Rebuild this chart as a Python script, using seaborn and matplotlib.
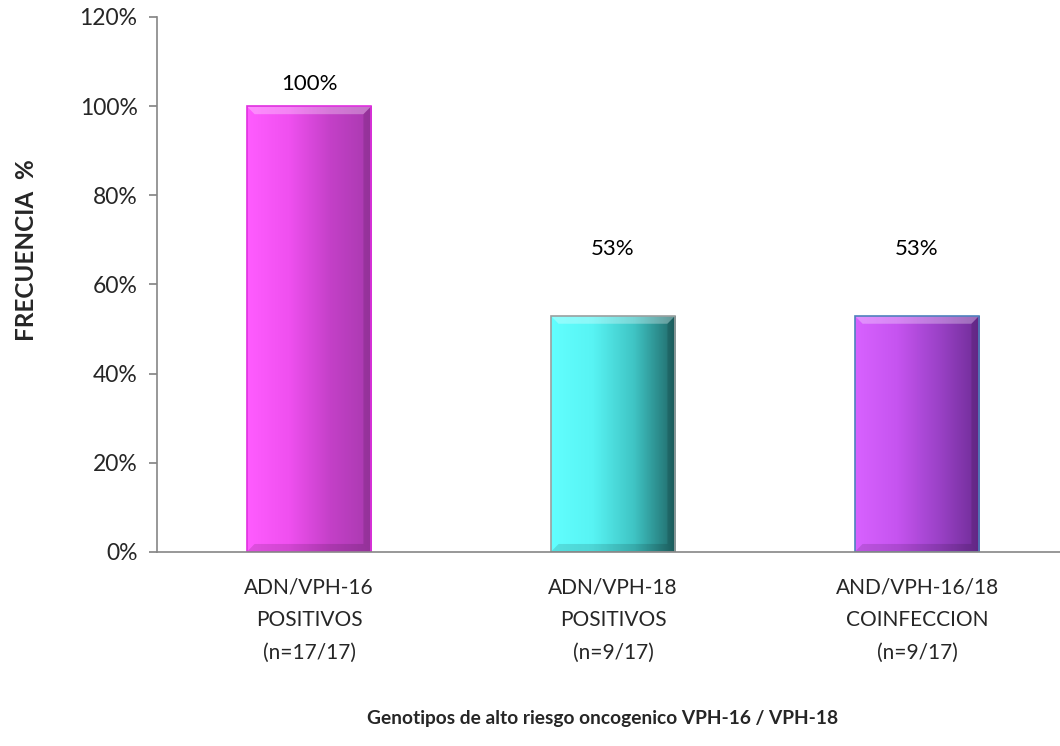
import numpy as np
import pandas as pd
import seaborn as sns
import matplotlib.pyplot as plt
from matplotlib.colors import LinearSegmentedColormap

# Data
categorias = ["ADN/VPH-16\nPOSITIVOS\n(n=17/17)",
              "ADN/VPH-18\nPOSITIVOS\n(n=9/17)",
              "AND/VPH-16/18\nCOINFECCION\n(n=9/17)"]
frecuencia = [1.00, 0.53, 0.53]
etiquetas = ["100%", "53%", "53%"]
altura_etiqueta = [1.05, 0.68, 0.68]

# colour ramps (left -> right) for the shaded bars
rampas = [["#ff5cff", "#f050f0", "#c440c8", "#a83aae"],
          ["#62ffff", "#58f4f4", "#3fc4c4", "#1f6666"],
          ["#d862ff", "#c654f0", "#9c42c8", "#6e2c96"]]
bordes = ["#e030e0", "#9aa0a0", "#4f81bd"]

sns.set_theme(style="white")
plt.rcParams['font.family'] = ['Lato', 'DejaVu Sans']

df = pd.DataFrame({"cat": categorias, "val": frecuencia})

fig = plt.figure(figsize=(10.6, 7.46), dpi=100)
ax = fig.add_axes([157 / 1060, 194 / 746, 912 / 1060, 535 / 746])

sns.barplot(data=df, x="cat", y="val", hue="cat", palette=[r[1] for r in rampas],
            width=0.41, legend=False, ax=ax, saturation=1)

ax.set_xlim(-0.5, 2.5)
ax.set_ylim(0, 1.2)

bx, by = 0.026, 0.018  # bevel size in data units
for i, p in enumerate(ax.patches):
    x0, y0 = p.get_x(), p.get_y()
    w, h = p.get_width(), p.get_height()
    z = p.get_zorder()
    cmap = LinearSegmentedColormap.from_list("g%d" % i, rampas[i])
    grad = np.linspace(0, 1, 256).reshape(1, -1)
    im = ax.imshow(grad, cmap=cmap, aspect="auto", extent=[x0, x0 + w, y0, y0 + h],
                   zorder=z + 0.1, interpolation="bicubic")
    im.set_clip_path(p)
    # bevel: light top, dark bottom/right edges
    top = plt.Polygon([[x0, y0 + h], [x0 + w, y0 + h], [x0 + w - bx, y0 + h - by],
                       [x0 + bx, y0 + h - by]], color="white", alpha=0.3, lw=0, zorder=z + 0.2)
    bot = plt.Polygon([[x0, y0], [x0 + w, y0], [x0 + w - bx, y0 + by],
                       [x0 + bx, y0 + by]], color="black", alpha=0.12, lw=0, zorder=z + 0.2)
    rgt = plt.Polygon([[x0 + w, y0], [x0 + w, y0 + h], [x0 + w - bx, y0 + h - by],
                       [x0 + w - bx, y0 + by]], color="black", alpha=0.12, lw=0, zorder=z + 0.2)
    for poly in (top, bot, rgt):
        ax.add_patch(poly)
    p.set_edgecolor(bordes[i])
    p.set_linewidth(1.2)
    p.set_facecolor("none")
    p.set_zorder(z + 0.3)
    ax.text(x0 + w / 2, altura_etiqueta[i], etiquetas[i], ha="center", va="center",
            fontsize=16, color="black")

ax.set_yticks([0, 0.2, 0.4, 0.6, 0.8, 1.0, 1.2])
ax.set_yticklabels(["0%", "20%", "40%", "60%", "80%", "100%", "120%"], fontsize=16.5)
ax.tick_params(axis="y", left=True, length=6, color="#868686", pad=8)
ax.tick_params(axis="x", bottom=False, labelsize=15, pad=12)
for lbl in ax.get_xticklabels():
    lbl.set_linespacing(1.8)

for s in ["top", "right"]:
    ax.spines[s].set_visible(False)
for s in ["left", "bottom"]:
    ax.spines[s].set_color("#868686")
    ax.spines[s].set_linewidth(1.2)

ax.set_xlabel("Genotipos de alto riesgo oncogenico VPH-16 / VPH-18",
              fontsize=13.8, fontweight="bold")
ax.xaxis.set_label_coords(0.489, -0.295)
ax.set_ylabel("FRECUENCIA  %", fontsize=17.5, fontweight="bold")
ax.yaxis.set_label_coords(-0.130, 0.565)

fig.savefig("out.png", dpi=100)
